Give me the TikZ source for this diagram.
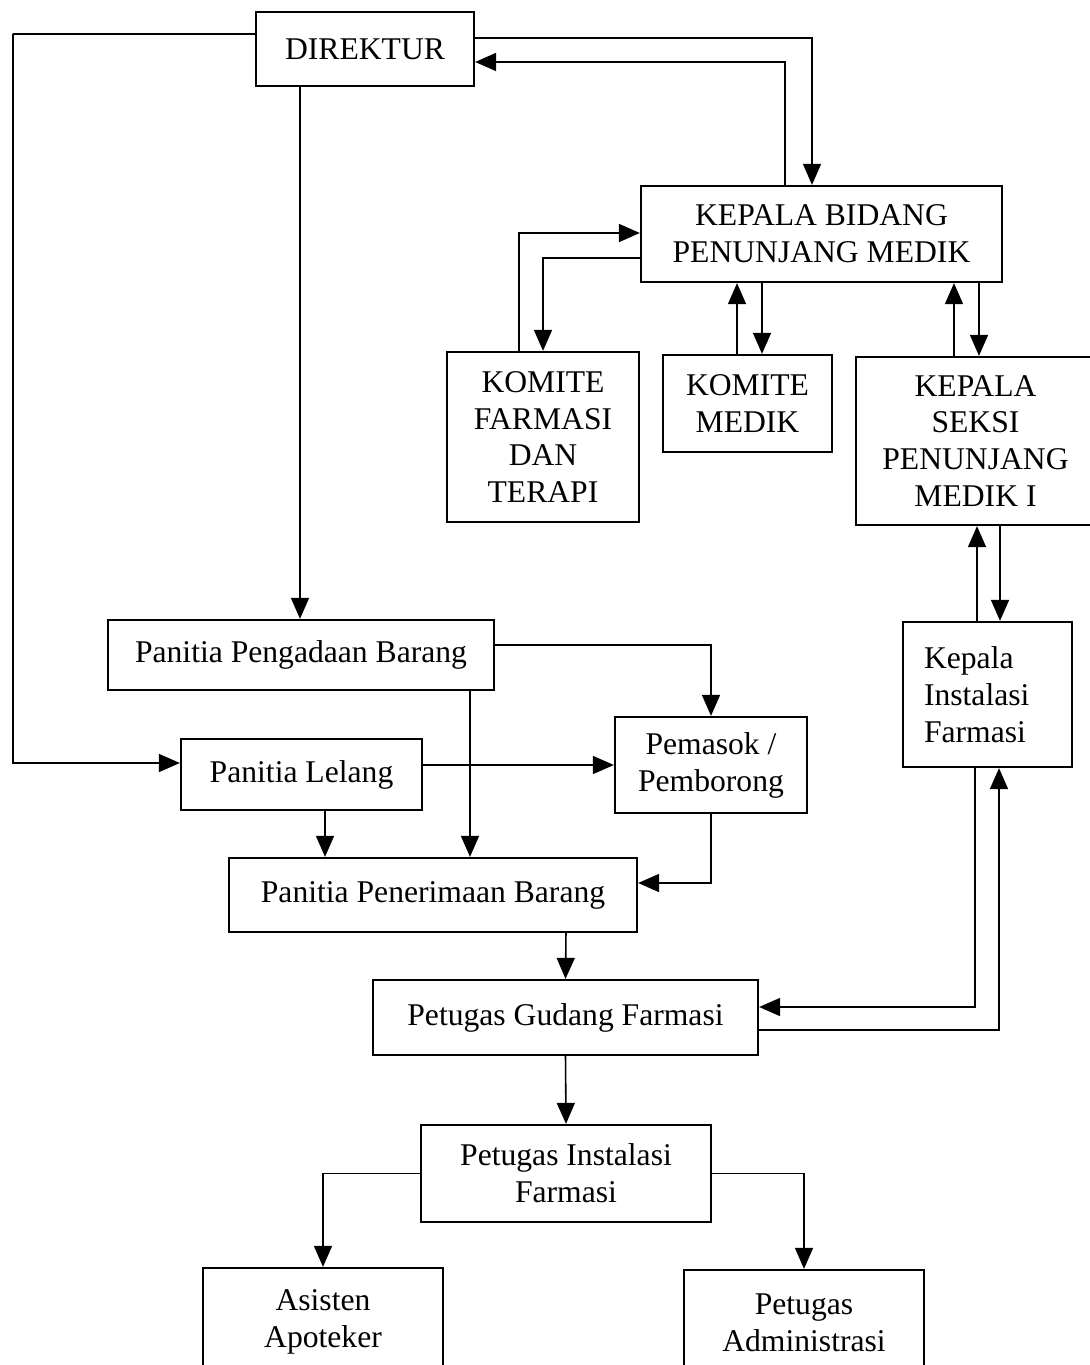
\documentclass[tikz,border=0pt]{standalone}
\usepackage{fontspec}
\setmainfont{Liberation Serif}
\usepackage{tikz}
\usetikzlibrary{arrows.meta,positioning,calc}

\begin{document}
\begin{tikzpicture}[
    x=0.02cm, y=-0.02cm,
    box/.style={draw, line width=1.3pt, align=center, inner sep=0pt, font=\fontsize{18}{21}\selectfont},
    arrow/.style={-{Triangle[length=0.42cm, width=0.36cm]}, line width=0.9pt},
    line/.style={line width=0.9pt}
]
\useasboundingbox (0,0) rectangle (1089,1365);

% ---- Top ----
\node[box, minimum width=4.36cm, minimum height=1.48cm] (direktur) at (365,49) {DIREKTUR};
\node[box, minimum width=7.22cm, minimum height=1.92cm] (kabid) at (821.5,234) {KEPALA BIDANG\\PENUNJANG MEDIK};

% ---- Komite & Seksi ----
\node[box, minimum width=3.84cm, minimum height=3.4cm] (komfar) at (543,437) {KOMITE\\FARMASI\\DAN\\TERAPI};
\node[box, minimum width=3.38cm, minimum height=1.94cm] (kommed) at (747.5,403.5) {KOMITE\\MEDIK};
\node[box, minimum width=4.78cm, minimum height=3.36cm] (kasi) at (975.5,441) {KEPALA\\SEKSI\\PENUNJANG\\MEDIK I};
\node[box, minimum width=3.38cm, minimum height=2.9cm, text width=2.54cm, align=left] (kif) at (987.5,694.5) {Kepala\\Instalasi\\Farmasi};

% ---- Pengadaan ----
\node[box, minimum width=7.72cm, minimum height=1.4cm] (pengadaan) at (301,655) {Panitia Pengadaan Barang};
\node[box, minimum width=4.82cm, minimum height=1.42cm] (lelang) at (301.5,774.5) {Panitia Lelang};
\node[box, minimum width=3.84cm, minimum height=1.92cm] (pemasok) at (711,765) {Pemasok /\\Pemborong};
\node[box, minimum width=8.16cm, minimum height=1.48cm] (terima) at (433,895) {Panitia Penerimaan Barang};

% ---- Farmasi ----
\node[box, minimum width=7.7cm, minimum height=1.5cm] (gudang) at (565.5,1017.5) {Petugas Gudang Farmasi};
\node[box, minimum width=5.8cm, minimum height=1.94cm] (petif) at (566,1173.5) {Petugas Instalasi\\Farmasi};
\node[box, minimum width=4.8cm, minimum height=2.14cm] (asisten) at (323,1321.5) {Asisten\\Apoteker};
\node[box, minimum width=4.8cm, minimum height=2.1cm] (admin) at (804,1322.5) {Petugas\\Administrasi};

\coordinate (rail) at (13,34);

% ---- Direktur arrows ----
\draw[arrow] ([yshift=0.3cm]direktur.west) -| (rail) |- ([yshift=0.23cm]lelang.west);
\draw[arrow] ([yshift=0.22cm]direktur.east) -| ([xshift=-0.19cm]kabid.north);
\draw[arrow] ([xshift=-0.73cm]kabid.north) |- ([yshift=-0.26cm]direktur.east);
\draw[arrow] ([xshift=-1.3cm]direktur.south) -- ([xshift=-0.02cm]pengadaan.north);

% ---- Kepala bidang arrows ----
\draw[arrow] ([xshift=-0.48cm]komfar.north) |- ([yshift=0.02cm]kabid.west);
\draw[arrow] ([yshift=-0.48cm]kabid.west) -| (komfar.north);
\draw[arrow] ([xshift=-0.21cm]kommed.north) -- ([xshift=-1.69cm]kabid.south);
\draw[arrow] ([xshift=-1.19cm]kabid.south) -- ([xshift=0.29cm]kommed.north);
\draw[arrow] ([xshift=-0.43cm]kasi.north) -- ([xshift=2.65cm]kabid.south);
\draw[arrow] ([xshift=3.15cm]kabid.south) -- ([xshift=0.07cm]kasi.north);

% ---- Seksi & instalasi arrows ----
\draw[arrow] ([xshift=-0.21cm]kif.north) -- ([xshift=0.03cm]kasi.south);
\draw[arrow] ([xshift=0.49cm]kasi.south) -- ([xshift=0.25cm]kif.north);
\draw[arrow] ([xshift=-0.25cm]kif.south) |- ([yshift=0.21cm]gudang.east);
\draw[arrow] ([yshift=-0.25cm]gudang.east) -| ([xshift=0.23cm]kif.south);

% ---- Pengadaan arrows ----
\draw[arrow] ([yshift=0.2cm]pengadaan.east) -| (pemasok.north);
\draw[arrow] ([xshift=3.38cm]pengadaan.south) -- ([xshift=0.74cm]terima.north);
\draw[arrow] ([yshift=0.19cm]lelang.east) -- (pemasok.west);
\draw[arrow] ([xshift=0.47cm]lelang.south) -- ([xshift=-2.16cm]terima.north);
\draw[arrow] (pemasok.south) |- ([yshift=0.24cm]terima.east);
\draw[arrow] ([xshift=2.66cm]terima.south) -- (gudang.north);

% ---- Farmasi arrows ----
\draw[arrow] (gudang.south) -- (petif.north);
\draw[arrow] (petif.west) -| (asisten.north);
\draw[arrow] (petif.east) -| (admin.north);

\end{tikzpicture}
\end{document}
